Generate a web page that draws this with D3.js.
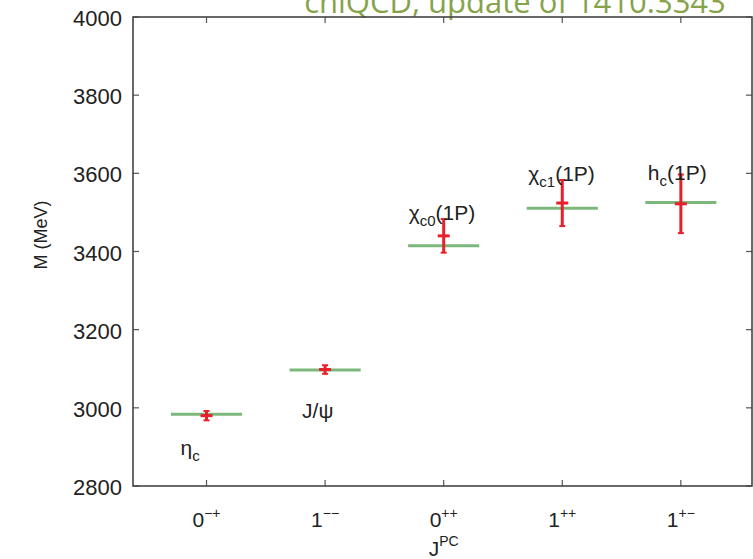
<!DOCTYPE html>
<html>
<head>
<meta charset="utf-8">
<script src="https://cdn.jsdelivr.net/npm/d3@7"></script>
<style>
  body { margin: 0; background: #fff; }
  text { font-family: "Liberation Sans", Arial, Helvetica, sans-serif; fill: #222; }
</style>
</head>
<body>
<svg id="chart" width="753" height="559"></svg>
<script>
// quantum numbers on the x axis
const jValues = ['0', '1', '0', '1', '1'];
const pcValues = ['\u2212+', '\u2212\u2212', '++', '++', '+\u2212'];

// experimental masses (green bars), MeV
const expMass = [2983.9, 3096.9, 3414.7, 3510.7, 3525.4];

// lattice results (red points with errors), MeV
const latMass = [2980, 3098, 3440, 3524, 3522];
const latErr = [12, 11, 43, 59, 75];

// particle names: [main, subscript, suffix]
const names = [
  ['\u03b7', 'c', ''],
  ['J/\u03c8', '', ''],
  ['\u03c7', 'c0', '(1P)'],
  ['\u03c7', 'c1', '(1P)'],
  ['h', 'c', '(1P)']
];

const yTicks = [2800, 3000, 3200, 3400, 3600, 3800, 4000];

const svg = d3.select('#chart');

const plotLeft = 133, plotRight = 752, plotTop = 17, plotBottom = 486;

let x = d3.scaleLinear().domain([0.38, 5.6]).range([plotLeft, plotRight]);
let y = d3.scaleLinear().domain([2800, 4000]).range([plotBottom, plotTop]);

const idx = d3.range(jValues.length);

// title (partly cut off by the top of the image, as in the original)
svg.append('text')
    .attr('x', 515)
    .attr('y', 13)
    .attr('text-anchor', 'middle')
    .style('font-family', '"Open Sans", "Noto Sans", sans-serif')
    .style('font-size', '31px')
    .style('fill', '#86a34a')
    .text('chiQCD, update of 1410.3343');

// ticks, inward on all four sides
const tickLen = 6;
let ticks = svg.append('g').attr('stroke', '#555').attr('stroke-width', 1.2);
for (let t of yTicks)
{
  ticks.append('line').attr('x1', plotLeft).attr('x2', plotLeft + tickLen)
      .attr('y1', y(t)).attr('y2', y(t));
  ticks.append('line').attr('x1', plotRight).attr('x2', plotRight - tickLen)
      .attr('y1', y(t)).attr('y2', y(t));
}
for (let i of idx)
{
  ticks.append('line').attr('x1', x(i + 1)).attr('x2', x(i + 1))
      .attr('y1', plotBottom).attr('y2', plotBottom - tickLen);
  ticks.append('line').attr('x1', x(i + 1)).attr('x2', x(i + 1))
      .attr('y1', plotTop).attr('y2', plotTop + tickLen);
}

// frame
svg.append('rect')
    .attr('x', plotLeft).attr('y', plotTop)
    .attr('width', plotRight - plotLeft).attr('height', plotBottom - plotTop)
    .attr('fill', 'none')
    .attr('stroke', '#444')
    .attr('stroke-width', 1.6);

// y tick labels
svg.append('g').selectAll('text')
    .data(yTicks)
    .join('text')
    .attr('x', plotLeft - 11)
    .attr('y', d => y(d) + 9)
    .attr('text-anchor', 'end')
    .style('font-size', '22px')
    .text(d => d);

// x tick labels with superscripts
let xl = svg.append('g').selectAll('text')
    .data(idx)
    .join('text')
    .attr('x', i => x(i + 1))
    .attr('y', plotBottom + 41)
    .attr('text-anchor', 'middle')
    .style('font-size', '21px');
xl.append('tspan').text(i => jValues[i]);
xl.append('tspan').attr('dy', -9).style('font-size', '14px').text(i => pcValues[i]);

// axis titles
let xt = svg.append('text')
    .attr('x', x(3))
    .attr('y', plotBottom + 70)
    .attr('text-anchor', 'middle')
    .style('font-size', '21px');
xt.append('tspan').text('J');
xt.append('tspan').attr('dy', -10).style('font-size', '14px').text('PC');

svg.append('text')
    .attr('transform', 'translate(47, 235) rotate(-90)')
    .attr('text-anchor', 'middle')
    .style('font-size', '18px')
    .text('M (MeV)');

// experimental levels
const halfWidth = 0.3;
svg.append('g').selectAll('line')
    .data(idx)
    .join('line')
    .attr('x1', i => x(i + 1 - halfWidth))
    .attr('x2', i => x(i + 1 + halfWidth))
    .attr('y1', i => y(expMass[i]))
    .attr('y2', i => y(expMass[i]))
    .attr('stroke', '#7cb87c')
    .attr('stroke-width', 3);

// lattice points with error bars
let pts = svg.append('g').attr('stroke', '#e8202a').attr('stroke-width', 3);
for (let i of idx)
{
  let cx = x(i + 1);
  pts.append('line').attr('x1', cx).attr('x2', cx)
      .attr('y1', y(latMass[i] + latErr[i])).attr('y2', y(latMass[i] - latErr[i]));
  pts.append('line').attr('x1', cx - 6).attr('x2', cx + 6)
      .attr('y1', y(latMass[i])).attr('y2', y(latMass[i]));
  for (let s of [-1, 1])
  {
    pts.append('line').attr('x1', cx - 3).attr('x2', cx + 3)
        .attr('y1', y(latMass[i] + s * latErr[i]))
        .attr('y2', y(latMass[i] + s * latErr[i]))
        .attr('stroke-width', 2);
  }
}

// particle labels
const labelDx = [-26, -23, -35, -34, -33];
const labelDy = [41, 48, -26, -27, -22];
let lab = svg.append('g').selectAll('text')
    .data(idx)
    .join('text')
    .attr('x', i => x(i + 1) + labelDx[i])
    .attr('y', i => y(expMass[i]) + labelDy[i])
    .style('font-size', '21px');
lab.append('tspan').text(i => names[i][0]);
lab.append('tspan').attr('dy', 6).style('font-size', '15px')
    .text(i => names[i][1]);
lab.append('tspan').attr('dy', i => names[i][1] ? -6 : 0)
    .text(i => names[i][2]);
</script>
</body>
</html>
